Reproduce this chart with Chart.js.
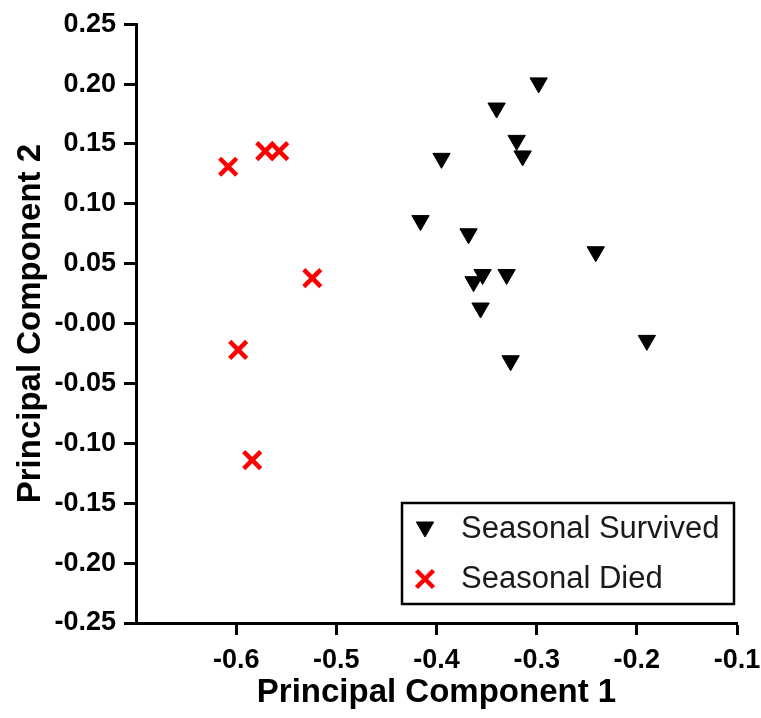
<!DOCTYPE html>
<html>
<head>
<meta charset="utf-8">
<script src="https://cdn.jsdelivr.net/npm/chart.js@4/dist/chart.umd.min.js"></script>
<style>
  html, body { margin: 0; padding: 0; background: #ffffff; }
  #wrap { width: 761px; height: 718px; }
</style>
</head>
<body>
<div id="wrap"><canvas id="pca" width="761" height="718"></canvas></div>
<script>
// PCA scores per bird, grouped by outcome
const survivedPC1 = [-0.298, -0.340, -0.320, -0.314, -0.395, -0.416, -0.368, -0.241, -0.354, -0.363, -0.330, -0.356, -0.190, -0.326];
const survivedPC2 = [0.201, 0.180, 0.153, 0.140, 0.138, 0.086, 0.075, 0.060, 0.041, 0.035, 0.041, 0.013, -0.014, -0.031];
const diedPC1 = [-0.608, -0.571, -0.557, -0.524, -0.598, -0.584];
const diedPC2 = [0.131, 0.144, 0.144, 0.038, -0.022, -0.114];

const seriesNames = ['Seasonal Survived', 'Seasonal Died'];
const axisTitles = ['Principal Component 1', 'Principal Component 2'];

// Axis ranges and tick labels
const xRange = [-0.7, -0.1];
const xStep = 0.1;
const xTickLabels = ['-0.7', '-0.6', '-0.5', '-0.4', '-0.3', '-0.2', '-0.1'];
const yRange = [-0.25, 0.25];
const yStep = 0.05;
const yTickLabels = ['-0.25', '-0.20', '-0.15', '-0.10', '-0.05', '-0.00', '0.05', '0.10', '0.15', '0.20', '0.25'];

const toPoints = (xs, ys) => xs.map((x, i) => ({ x: x, y: ys[i] }));
const labelFor = (labels, min, step) => (v) => {
  const i = Math.round((v - min) / step);
  return labels[i] !== undefined ? labels[i] : '';
};

const FONT = '"Liberation Sans", Arial, Helvetica, sans-serif';

// Boxed legend drawn in the lower right of the plot area
const boxedLegend = {
  id: 'boxedLegend',
  afterDraw(chart) {
    const ctx = chart.ctx;
    const a = chart.chartArea;
    const right = a.right - 3, bottom = a.bottom - 19;
    const w = 332, h = 101;
    const left = right - w, top = bottom - h;
    ctx.save();
    ctx.lineWidth = 2.5;
    ctx.strokeStyle = '#000';
    ctx.strokeRect(left, top, w, h);
    const rows = [top + 26, top + 76];
    chart.data.datasets.forEach((ds, i) => {
      const y = rows[i];
      const mx = left + 23;
      ctx.fillStyle = ds.pointBackgroundColor;
      ctx.strokeStyle = ds.pointBorderColor;
      ctx.lineWidth = ds.pointBorderWidth;
      const opts = {
        pointStyle: ds.pointStyle,
        rotation: ds.pointRotation || 0,
        radius: ds.legendRadius,
        borderWidth: ds.pointBorderWidth
      };
      Chart.helpers.drawPoint(ctx, opts, mx, y + (ds.pointStyle === 'triangle' ? -2 : 0));
      ctx.fillStyle = '#1a1a1a';
      ctx.font = '31px ' + FONT;
      ctx.textBaseline = 'middle';
      ctx.textAlign = 'left';
      ctx.fillText(ds.label, left + 59, y);
    });
    ctx.restore();
  }
};

new Chart(document.getElementById('pca'), {
  type: 'scatter',
  data: {
    datasets: [
      {
        label: seriesNames[0],
        data: toPoints(survivedPC1, survivedPC2),
        pointStyle: 'triangle',
        pointRotation: 180,
        pointRadius: 10,
        legendRadius: 10,
        pointBorderWidth: 1,
        pointBackgroundColor: '#000000',
        pointBorderColor: '#000000'
      },
      {
        label: seriesNames[1],
        data: toPoints(diedPC1, diedPC2),
        pointStyle: 'crossRot',
        pointRadius: 12,
        legendRadius: 12,
        pointBorderWidth: 4.5,
        pointBackgroundColor: '#ff0000',
        pointBorderColor: '#ff0000'
      }
    ]
  },
  options: {
    responsive: false,
    animation: false,
    devicePixelRatio: 1,
    layout: { padding: { top: 23, right: 24, bottom: 0, left: 0 } },
    plugins: {
      legend: { display: false },
      tooltip: { enabled: false }
    },
    scales: {
      x: {
        type: 'linear',
        min: xRange[0],
        max: xRange[1],
        afterFit(scale) {
          scale.height = 95;
          scale.paddingLeft = 0;
          scale.paddingRight = 0;
        },
        afterBuildTicks(scale) {
          // the origin tick sits on the vertical axis and is left unmarked
          scale.ticks = scale.ticks.filter(t => t.value > xRange[0] + xStep / 2);
        },
        border: { display: true, color: '#000', width: 3 },
        grid: { display: true, drawOnChartArea: false, drawTicks: true, tickLength: 12, tickWidth: 3, tickColor: '#000' },
        ticks: {
          stepSize: xStep,
          color: '#000',
          padding: 9,
          maxRotation: 0,
          font: { family: FONT, size: 27, weight: 'bold' },
          callback: labelFor(xTickLabels, xRange[0], xStep)
        },
        title: {
          display: true,
          text: axisTitles[0],
          color: '#000',
          padding: { top: 0, bottom: 5 },
          font: { family: FONT, size: 33, weight: 'bold' }
        }
      },
      y: {
        type: 'linear',
        min: yRange[0],
        max: yRange[1],
        afterFit(scale) { scale.width = 136; },
        border: { display: true, color: '#000', width: 3 },
        grid: { display: true, drawOnChartArea: false, drawTicks: true, tickLength: 12, tickWidth: 3, tickColor: '#000' },
        ticks: {
          stepSize: yStep,
          color: '#000',
          padding: 8,
          font: { family: FONT, size: 27, weight: 'bold' },
          callback: labelFor(yTickLabels, yRange[0], yStep)
        },
        title: {
          display: true,
          text: axisTitles[1],
          color: '#000',
          padding: { top: 11, bottom: 0 },
          font: { family: FONT, size: 33, weight: 'bold' }
        }
      }
    }
  },
  plugins: [boxedLegend]
});
</script>
</body>
</html>
